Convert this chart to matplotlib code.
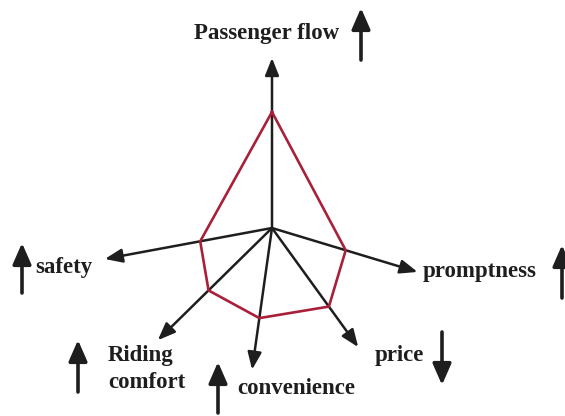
import numpy as np
import matplotlib.pyplot as plt

# evaluation criteria, direction of each axis (deg) and its drawn length
criteria = ["Passenger flow", "promptness", "price", "convenience", "Riding\ncomfort", "safety"]
angles_deg = [90, -16.8, -54.1, -98.0, -135.5, 190.5]
axis_len = [170, 152, 147, 143, 160, 170]
scores = [116, 77, 97, 91, 89, 73]
better_up = [True, True, False, True, True, True]   # arrow next to each label

# label anchors (x, y, ha) and indicator arrow x / y-span, in axes units
label_pos = [(-5, 195, "center"), (151, -44, "left"), (103, -128, "left"),
             (-35, -160, "left"), (-164, -141, "left"), (-237, -40, "left")]
ind_pos = [(89, 168, 220), (290, -70, -17), (170, -104, -157),
           (-54, -185, -134), (-194, -164, -112), (-250, -65, -15)]

fig = plt.figure(figsize=(5.65, 4.16), dpi=100)
ax = fig.add_axes([0, 0, 1, 1])
ax.set_xlim(-272, 293)
ax.set_ylim(-188, 228)
ax.set_aspect("equal")
ax.axis("off")

th = np.radians(angles_deg)
ink = "#1e1e1e"

# axes from the common origin
for t, L in zip(th, axis_len):
    ax.annotate("", xy=(L * np.cos(t), L * np.sin(t)), xytext=(0, 0),
                arrowprops=dict(arrowstyle="-|>,head_length=0.75,head_width=0.3",
                                color=ink, lw=1.8, shrinkA=0, shrinkB=0,
                                mutation_scale=14))

# score polygon
r = np.array(scores, dtype=float)
px = np.append(r * np.cos(th), r[0] * np.cos(th[0]))
py = np.append(r * np.sin(th), r[0] * np.sin(th[0]))
ax.plot(px, py, color="#a8203a", lw=1.9, zorder=3)

# labels with up / down indicator arrows
for name, (lx, ly, ha), (ix, y0, y1), up in zip(criteria, label_pos, ind_pos, better_up):
    ax.text(lx, ly, name, ha=ha, va="center", fontsize=16.5, fontweight="bold",
            family="Liberation Serif", color=ink, linespacing=1.35)
    lo, hi = min(y0, y1), max(y0, y1)
    start, end = (lo, hi) if up else (hi, lo)
    ax.annotate("", xy=(ix, end), xytext=(ix, start),
                arrowprops=dict(arrowstyle="-|>,head_length=0.8,head_width=0.35",
                                color=ink, lw=2.6, shrinkA=0, shrinkB=0,
                                mutation_scale=16))

fig.savefig("out.png", dpi=100)
